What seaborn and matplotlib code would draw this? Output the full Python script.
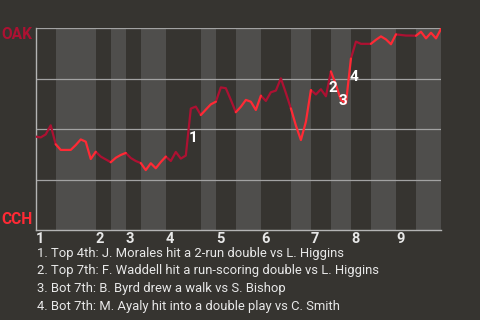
import matplotlib
matplotlib.use("Agg")
import matplotlib.pyplot as plt
import seaborn as sns
import pandas as pd

# ---- data ----
win_prob_oak = [0.463,0.459,0.474,0.519,0.425,0.397,0.397,0.397,0.421,0.449,
                0.438,0.352,0.388,0.364,0.350,0.336,0.358,0.372,0.382,0.357,
                0.342,0.332,0.297,0.331,0.306,0.337,0.364,0.342,0.387,0.354,
                0.369,0.602,0.612,0.570,0.597,0.623,0.636,0.707,0.703,0.645,
                0.584,0.611,0.645,0.636,0.595,0.666,0.640,0.683,0.691,0.752,
                0.679,0.603,0.518,0.446,0.537,0.694,0.672,0.698,0.663,0.786,
                0.720,0.645,0.628,0.850,0.934,0.923,0.923,0.923,0.943,0.960,
                0.945,0.921,0.970,0.967,0.964,0.964,0.963,0.983,0.950,0.978,
                0.950,0.997]
half_inning_starts = [0, 4, 12, 15, 18, 21, 26, 33, 36, 40, 45, 51, 55, 59, 63, 67, 72, 76]
inning_labels = ["1", "2", "3", "4", "5", "6", "7", "8", "9"]
teams = ["OAK", "CCH"]
event_plays = [31, 59, 61, 63]
event_labels = ["1", "2", "3", "4"]
event_offsets = [(2, -29), (2, -17), (2, -1), (3, -18)]
notes = ["1. Top 4th: J. Morales hit a 2-run double vs L. Higgins",
         "2. Top 7th: F. Waddell hit a run-scoring double vs L. Higgins",
         "3. Bot 7th: B. Byrd drew a walk vs S. Bishop",
         "4. Bot 7th: M. Ayaly hit into a double play vs C. Smith"]

BG = "#363430"
LIGHT = "#4f4e4c"
OAK_C = "#ad1132"
CCH_C = "#ff2a35"
TXT = "#e8e8e8"

sns.set_theme(style="dark", rc={"figure.facecolor": BG, "axes.facecolor": BG})
plt.rcParams["font.family"] = ["Roboto", "DejaVu Sans"]

n_last = len(win_prob_oak) - 1
ends = half_inning_starts[1:] + [n_last]

rows = []
for seg, (s, e) in enumerate(zip(half_inning_starts, ends)):
    team = teams[seg % 2]
    for x in range(s, e + 1):
        rows.append({"play": x, "wp": win_prob_oak[x], "seg": seg, "team": team})
df = pd.DataFrame(rows)

fig = plt.figure(figsize=(4.8, 3.2), dpi=100)
ax = fig.add_axes([35.7 / 480, 1 - 230 / 320, (441 - 35.7) / 480, (230 - 28.3) / 320])
ax.set_facecolor(BG)

for i, (s, e) in enumerate(zip(half_inning_starts, ends)):
    if i % 2 == 1:
        ax.axvspan(s, e, color=LIGHT, lw=0, zorder=0)

for yv in [0.25, 0.5, 0.75, 1.0]:
    ax.axhline(yv, color="#a2a2a2", lw=0.9, zorder=1)

sns.lineplot(data=df, x="play", y="wp", units="seg", hue="team", estimator=None,
             palette={"OAK": OAK_C, "CCH": CCH_C}, lw=1.6, legend=False, ax=ax, zorder=3)

ax.set_xlim(0, n_last)
ax.set_ylim(0, 1)
ax.set_xlabel("")
ax.set_ylabel("")
ax.set_yticks([])
ax.set_xticks([half_inning_starts[i] for i in range(0, 18, 2)])
ax.set_xticklabels(inning_labels, ha="left", fontsize=10.5, fontweight="bold", color=TXT)
ax.tick_params(axis="x", length=0, pad=1.5)
for sp in ["top", "right"]:
    ax.spines[sp].set_visible(False)
for sp in ["left", "bottom"]:
    ax.spines[sp].set_visible(True)
    ax.spines[sp].set_color("#b4b4b4")
    ax.spines[sp].set_linewidth(1)
ax.grid(False)

for px, lab, off in zip(event_plays, event_labels, event_offsets):
    ax.annotate(lab, xy=(px, win_prob_oak[px]), xytext=off, textcoords="offset pixels",
                ha="center", va="center", color="white", fontsize=11, fontweight="bold", zorder=5)

fig.text(32.5 / 480, 1 - 34.5 / 320, teams[0], ha="right", va="center", color=OAK_C,
         fontsize=11.2, fontweight="bold")
fig.text(32.5 / 480, 1 - 220 / 320, teams[1], ha="right", va="center", color=CCH_C,
         fontsize=11.2, fontweight="bold")

for i, line in enumerate(notes):
    fig.text(37 / 480, 1 - (253 + 17.8 * i) / 320, line, ha="left", va="center",
             color=TXT, fontsize=9.4)

fig.savefig("out.png", dpi=100, facecolor=BG)
